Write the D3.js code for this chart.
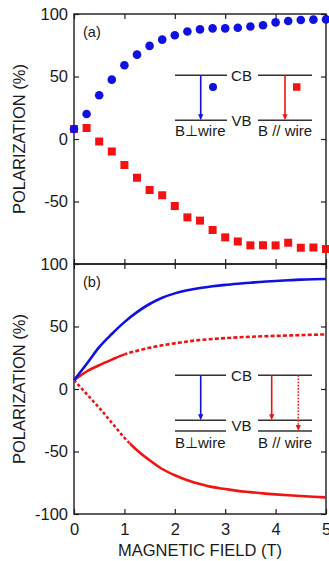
<!DOCTYPE html>
<html>
<head>
<meta charset="utf-8">
<script src="https://cdn.jsdelivr.net/npm/d3@7/dist/d3.min.js"></script>
<style>
  body { margin: 0; background: #fff; }
  svg { display: block; font-family: "Liberation Sans", Arial, sans-serif; }
</style>
</head>
<body>
<div id="chart"></div>
<script>
// panel (a): measured polarization vs magnetic field
const fieldA = [0, 0.25, 0.5, 0.75, 1, 1.25, 1.5, 1.75, 2, 2.25, 2.5, 2.75, 3, 3.25, 3.5, 3.75, 4, 4.25, 4.5, 4.75, 5];
const perpA = [8, 20, 35, 47.5, 59, 67.5, 74.5, 79.5, 83, 86, 87.7, 88.5, 88.5, 89, 90, 91, 93.3, 94.4, 95.2, 95.5, 95.7];
const paraA = [8, 8.8, -2, -10, -20.8, -31, -40.8, -45, -53.6, -62.7, -65.3, -72.8, -78.7, -82, -85.1, -85, -85.1, -83, -87, -86.8, -88];

// panel (b): model curves
const fieldB = [0, 0.25, 0.5, 0.75, 1, 1.25, 1.5, 1.75, 2, 2.25, 2.5, 2.75, 3, 3.25, 3.5, 3.75, 4, 4.25, 4.5, 4.75, 5];
const perpB = [7, 20, 33.5, 44, 53.5, 61.5, 68, 73, 76.5, 79, 80.8, 82.2, 83.3, 84.2, 85, 85.8, 86.4, 87, 87.5, 87.8, 88];
const paraUpperB = [7, 14, 19, 23.5, 27.7, 30.5, 33, 35, 36.5, 38, 39.2, 40, 40.7, 41.3, 41.8, 42.2, 42.5, 42.8, 43.1, 43.4, 43.7];
const paraLowerB = [7, -4, -15, -27, -39, -49, -57, -64, -69, -73, -76, -78.5, -80, -81.5, -82.5, -83.5, -84.3, -85, -85.6, -86.2, -86.7];
const upperSolidUntil = 1.0;   // field where upper red curve turns dashed
const lowerDashedUntil = 1.1;  // field where lower red curve turns solid

const xTicks = [0, 1, 2, 3, 4, 5];
const yTicksA = [100, 50, 0, -50];
const yTicksB = [100, 50, 0, -50, -100];

const BLUE = '#1010e0';
const RED = '#f21212';
const INSET_GREY = '#333';

const width = 329, height = 561;
const margin = { top: 14, right: 3, bottom: 47, left: 74 };
const panelH = (height - margin.top - margin.bottom) / 2;
const plainNum = d => String(d);

const svg = d3.select('#chart').append('svg')
  .attr('width', width)
  .attr('height', height);

const x = d3.scaleLinear().domain([0, 5]).range([margin.left, width - margin.right]);
const yA = d3.scaleLinear().domain([-100, 100]).range([margin.top + panelH, margin.top]);
const yB = d3.scaleLinear().domain([-100, 100]).range([margin.top + 2 * panelH, margin.top + panelH]);

function drawFrame(y, yTicks, showX, id) {
  const top = y.range()[1], bottom = y.range()[0];
  const g = svg.append('g').attr('class', 'axes-' + id);

  g.append('g')
    .attr('transform', `translate(${margin.left},0)`)
    .call(d3.axisLeft(y).tickValues(yTicks).tickFormat(plainNum).tickSizeInner(-5).tickSizeOuter(0).tickPadding(6))
    .call(a => a.select('.domain').remove());

  g.append('g')
    .attr('transform', `translate(${width - margin.right},0)`)
    .call(d3.axisRight(y).tickValues(yTicks).tickSizeInner(-5).tickSizeOuter(0).tickFormat(''))
    .call(a => a.select('.domain').remove());

  g.append('g')
    .attr('transform', `translate(0,${top})`)
    .call(d3.axisTop(x).tickValues(xTicks).tickSizeInner(-5).tickSizeOuter(0).tickFormat(''))
    .call(a => a.select('.domain').remove());

  const bx = d3.axisBottom(x).tickValues(xTicks).tickFormat(showX ? plainNum : '')
    .tickSizeInner(-5).tickSizeOuter(0).tickPadding(9.5);
  g.append('g')
    .attr('transform', `translate(0,${bottom})`)
    .call(bx)
    .call(a => a.select('.domain').remove());

  g.selectAll('.tick line').attr('stroke', '#222').attr('stroke-width', 1.2);
  g.selectAll('.tick text').attr('font-size', '16.5px').attr('fill', '#1a1a1a')
    .attr('font-family', '"Liberation Sans", Arial, sans-serif');

  g.append('rect')
    .attr('x', margin.left).attr('y', top)
    .attr('width', width - margin.right - margin.left)
    .attr('height', bottom - top)
    .attr('fill', 'none').attr('stroke', '#1a1a1a').attr('stroke-width', 1.4);

  svg.append('text')
    .attr('transform', `translate(25,${(top + bottom) / 2}) rotate(-90)`)
    .attr('text-anchor', 'middle')
    .attr('font-size', '16.5px')
    .attr('fill', '#1a1a1a')
    .text('POLARIZATION (%)');
}

// ---------- inset level diagrams ----------
function arrow(g, xp, y0, y1, color, dotted) {
  g.append('line')
    .attr('x1', xp).attr('x2', xp).attr('y1', y0).attr('y2', y1 - 4)
    .attr('stroke', color).attr('stroke-width', 1.6)
    .attr('stroke-dasharray', dotted ? '1.6,1.6' : null);
  g.append('path')
    .attr('d', `M${xp - 2.6},${y1 - 6}L${xp + 2.6},${y1 - 6}L${xp},${y1}Z`)
    .attr('fill', color);
}

function level(g, x0, x1, yl) {
  g.append('line').attr('x1', x0).attr('x2', x1).attr('y1', yl).attr('y2', yl)
    .attr('stroke', INSET_GREY).attr('stroke-width', 1.4);
}

function insetText(g, xp, yp, txt, anchor) {
  g.append('text').attr('x', xp).attr('y', yp)
    .attr('text-anchor', anchor || 'start')
    .attr('font-size', '15px').attr('fill', '#1a1a1a')
    .text(txt);
}

function drawInsetA() {
  const g = svg.append('g').attr('transform', `translate(175,${yA(51)})`);
  level(g, 0, 52, 0); level(g, 83, 137, 0);
  level(g, 0, 52, 45); level(g, 83, 137, 45);
  insetText(g, 66.5, 5.5, 'CB', 'middle');
  insetText(g, 66.5, 50.5, 'VB', 'middle');
  arrow(g, 25.7, 0, 45, BLUE, false);
  arrow(g, 110, 0, 45, RED, false);
  g.append('circle').attr('cx', 38).attr('cy', 11.7).attr('r', 4).attr('fill', BLUE);
  g.append('rect').attr('x', 118).attr('y', 8).attr('width', 7.5).attr('height', 7.5).attr('fill', RED);
  insetText(g, 0, 61, 'B\u22A5wire');
  insetText(g, 83, 61, 'B // wire');
}

function drawInsetB() {
  const g = svg.append('g').attr('transform', `translate(175,${yB(11)})`);
  level(g, 0, 51, 0); level(g, 83, 137, 0);
  level(g, 0, 51, 45); level(g, 83, 137, 45);
  level(g, 0, 51, 55.7); level(g, 83, 137, 55.7);
  insetText(g, 66.5, 5.5, 'CB', 'middle');
  insetText(g, 66.5, 56, 'VB', 'middle');
  arrow(g, 25.7, 0, 45, BLUE, false);
  arrow(g, 96.7, 0, 45, RED, false);
  arrow(g, 123.3, 0, 55.7, RED, true);
  insetText(g, 0, 72.3, 'B\u22A5wire');
  insetText(g, 83, 72.3, 'B // wire');
}

// ---------- panel (a) ----------
drawFrame(yA, yTicksA, false, 'a');
drawInsetA();

const ptsA = fieldA.map((f, i) => ({ f, perp: perpA[i], para: paraA[i] }));

svg.append('g').selectAll('rect.sq')
  .data(ptsA)
  .enter().append('rect')
  .attr('class', 'sq')
  .attr('x', d => x(d.f) - 4)
  .attr('y', d => yA(d.para) - 4)
  .attr('width', 8).attr('height', 8)
  .attr('fill', RED);

svg.append('g').selectAll('circle.dot')
  .data(ptsA)
  .enter().append('circle')
  .attr('class', 'dot')
  .attr('cx', d => x(d.f))
  .attr('cy', d => yA(d.perp))
  .attr('r', 4.3)
  .attr('fill', BLUE);

svg.append('text').attr('x', 83).attr('y', 37)
  .attr('font-size', '14.5px').attr('fill', '#1a1a1a').text('(a)');

// ---------- panel (b) ----------
drawFrame(yB, yTicksB, true, 'b');
drawInsetB();

const defs = svg.append('defs');
function clip(id, f0, f1) {
  defs.append('clipPath').attr('id', id).append('rect')
    .attr('x', x(f0)).attr('width', x(f1) - x(f0))
    .attr('y', yB.range()[1] - 2).attr('height', panelH + 4);
}
clip('upper-solid', 0, upperSolidUntil);
clip('upper-dash', upperSolidUntil, 5);
clip('lower-dash', 0, lowerDashedUntil);
clip('lower-solid', lowerDashedUntil, 5);

const lineB = d3.line()
  .x(d => x(d[0]))
  .y(d => yB(d[1]))
  .curve(d3.curveMonotoneX);

function curve(vals, color, dash, clipId) {
  svg.append('path')
    .datum(fieldB.map((f, i) => [f, vals[i]]))
    .attr('d', lineB)
    .attr('fill', 'none')
    .attr('stroke', color)
    .attr('stroke-width', 2.6)
    .attr('stroke-dasharray', dash)
    .attr('clip-path', clipId ? `url(#${clipId})` : null);
}

curve(paraUpperB, RED, null, 'upper-solid');
curve(paraUpperB, RED, '4,2.2', 'upper-dash');
curve(paraLowerB, RED, '3,2.4', 'lower-dash');
curve(paraLowerB, RED, null, 'lower-solid');
curve(perpB, BLUE, null, null);

svg.append('text').attr('x', 83).attr('y', 287)
  .attr('font-size', '14.5px').attr('fill', '#1a1a1a').text('(b)');

svg.append('text')
  .attr('x', (x.range()[0] + x.range()[1]) / 2)
  .attr('y', 556)
  .attr('text-anchor', 'middle')
  .attr('font-size', '16.5px')
  .attr('fill', '#1a1a1a')
  .text('MAGNETIC FIELD (T)');
</script>
</body>
</html>
